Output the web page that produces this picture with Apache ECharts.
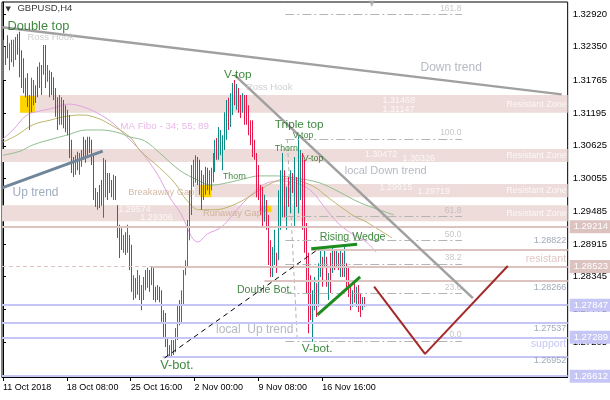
<!DOCTYPE html>
<html><head><meta charset="utf-8">
<script src="https://cdn.jsdelivr.net/npm/echarts@6/dist/echarts.min.js"></script>
<style>html,body{margin:0;padding:0;background:#fff}#c{width:610px;height:400px}</style>
</head><body><div id="c"></div>
<script>
// ---------- data ----------
const timeLabels = ['11 Oct 2018','18 Oct 08:00','25 Oct 16:00','2 Nov 00:00','9 Nov 08:00','16 Nov 16:00'];
const timeTickBars = [0,32,64,96,128,160];
const priceTicks = [1.32920,1.32350,1.31765,1.31195,1.30625,1.30055,1.29485,1.28915,1.28345,1.27775,1.27205];

// H4 bars: high, low and direction (U = up bar, D = down bar)
const highs = [
1.3247,1.3235,1.3255,1.3241,1.3247,1.3247,1.3252,1.3257,1.3261,1.3229,
1.3215,1.3181,1.3189,1.3151,1.3181,1.3177,1.3168,1.3200,1.3208,1.3203,
1.3238,1.3238,1.3203,1.3194,1.3191,1.3182,1.3163,1.3147,1.3151,1.3147,
1.3142,1.3133,1.3125,1.3116,1.3073,1.3043,1.3046,1.3052,1.3050,1.3055,
1.3078,1.3073,1.3078,1.3078,1.3073,1.3050,1.2989,1.2982,1.2994,1.3003,
1.3041,1.3038,1.3015,1.3015,1.3003,1.3012,1.3010,1.2959,1.2925,1.2919,
1.2907,1.2912,1.2925,1.2907,1.2890,1.2837,1.2832,1.2846,1.2837,1.2820,
1.2834,1.2846,1.2850,1.2846,1.2853,1.2850,1.2817,1.2820,1.2817,1.2811,
1.2776,1.2771,1.2729,1.2715,1.2724,1.2724,1.2745,1.2785,1.2794,1.2811,
1.2846,1.2863,1.2933,1.2985,1.3029,1.3038,1.3046,1.3043,1.3038,1.3020,
1.3012,1.3026,1.3024,1.3020,1.3024,1.3050,1.3073,1.3076,1.3095,1.3090,
1.3081,1.3121,1.3142,1.3146,1.3154,1.3172,1.3177,1.3170,1.3163,1.3151,
1.3154,1.3151,1.3151,1.3133,1.3107,1.3107,1.3073,1.3050,1.3029,1.2994,
1.2991,1.2977,1.2968,1.2942,1.2898,1.2886,1.2916,1.2876,1.2985,1.3020,
1.3050,1.3020,1.2991,1.3008,1.3020,1.3015,1.3043,1.3008,1.3081,1.3055,
1.3050,1.3038,1.2928,1.2876,1.2837,1.2811,1.2834,1.2823,1.2858,1.2886,
1.2869,1.2881,1.2869,1.2841,1.2876,1.2886,1.2881,1.2881,1.2876,1.2881,
1.2876,1.2886,1.2858,1.2851,1.2817,1.2811,1.2823,1.2817,1.2820,1.2806,
1.2799,1.2799];
const lows = [
1.3177,1.3203,1.3215,1.3194,1.3208,1.3200,1.3212,1.3221,1.3182,1.3163,
1.3154,1.3147,1.3130,1.3090,1.3121,1.3133,1.3137,1.3147,1.3163,1.3151,
1.3186,1.3163,1.3174,1.3147,1.3151,1.3142,1.3113,1.3090,1.3099,1.3099,
1.3093,1.3086,1.3081,1.3041,1.3015,1.3008,1.3012,1.3020,1.3012,1.3026,
1.3038,1.3033,1.3043,1.3050,1.3029,1.2968,1.2956,1.2951,1.2954,1.2958,
1.2937,1.2973,1.2968,1.2980,1.2973,1.2968,1.2968,1.2902,1.2867,1.2881,
1.2876,1.2872,1.2876,1.2846,1.2808,1.2794,1.2797,1.2803,1.2794,1.2776,
1.2794,1.2811,1.2815,1.2808,1.2820,1.2794,1.2790,1.2794,1.2790,1.2756,
1.2729,1.2712,1.2694,1.2694,1.2694,1.2698,1.2703,1.2724,1.2750,1.2754,
1.2785,1.2837,1.2851,1.2898,1.2942,1.2991,1.2998,1.2994,1.2977,1.2951,
1.2968,1.2977,1.2985,1.2977,1.2985,1.2999,1.3017,1.3038,1.3038,1.3046,
1.3020,1.3055,1.3073,1.3090,1.3095,1.3116,1.3133,1.3125,1.3120,1.3111,
1.3120,1.3099,1.3099,1.3081,1.3064,1.3043,1.3038,1.2973,1.2968,1.2942,
1.2921,1.2930,1.2916,1.2855,1.2834,1.2834,1.2855,1.2841,1.2863,1.2916,
1.2938,1.2938,1.2916,1.2956,1.2945,1.2980,1.2921,1.2956,1.2945,1.2968,
1.2916,1.2876,1.2806,1.2736,1.2759,1.2721,1.2776,1.2764,1.2782,1.2834,
1.2817,1.2851,1.2817,1.2794,1.2806,1.2841,1.2846,1.2851,1.2846,1.2834,
1.2834,1.2834,1.2811,1.2799,1.2776,1.2782,1.2789,1.2782,1.2773,1.2764,
1.2776,1.2782];
const dirs = 'UDDUDUUDDD' + 'DDDUUUDDUD' + 'UDUDDDDDUU' + 'DDUDDDUDUU' + 'DDDDDDDUDD' +
             'UUDUDUDDDD' + 'UDUDDUDUUD' + 'UDUDUDDUDD' + 'DDDDUUUUDU' + 'UUUUUUUDDD' +
             'UDDUUUUDUU' + 'UUUDUUDUDD' + 'UDDDDDDDDD' + 'DUDDDUUDUU' + 'UDUDUDUDUU' +
             'DDDDDUUDUU' + 'DUDUDUDUDU' + 'DUDDDUDUDD' + 'UD';

// moving averages: [bar, price]
const maViolet = [[-0.5,1.3073],[5,1.3090],[12,1.3116],[18.5,1.3123],[25,1.3128],[32.5,1.3135],[38.5,1.3132],[47,1.3120],[55,1.3102],[63.5,1.3073],[68.5,1.3055],[77,1.3015],[83.5,1.2973],[89.5,1.2942],[94.5,1.2904],[97.5,1.2895],[102.5,1.2909],[109.5,1.2921],[118.5,1.2956],[127,1.2985],[133.5,1.2999],[140,1.3001],[148.5,1.2996],[155,1.2982],[161,1.2956],[168.5,1.2926],[176,1.2907],[182,1.2895],[187,1.2877]];
const maOlive = [[0,1.3069],[7,1.3081],[15,1.3099],[23.5,1.3107],[32,1.3114],[40,1.3116],[47,1.3111],[53.5,1.3100],[63.5,1.3078],[68.5,1.3055],[78.5,1.3024],[86,1.2998],[92,1.2968],[98.5,1.2951],[106,1.2951],[114.5,1.2958],[122.5,1.2972],[128.5,1.2985],[135,1.2998],[142,1.3005],[148.5,1.3001],[156,1.2991],[162,1.2975],[168.5,1.2958],[176,1.2940],[182,1.2930],[188.5,1.2916],[195,1.2902]];
const maGreen = [[0,1.3046],[8.5,1.3053],[15,1.3064],[23.5,1.3073],[32,1.3081],[42,1.3090],[48.5,1.3090],[57,1.3086],[63.5,1.3078],[71,1.3071],[78.5,1.3050],[88.5,1.3020],[97.5,1.3003],[104.5,1.2994],[112.5,1.2998],[121,1.3005],[128.5,1.3010],[137,1.3010],[147,1.3006],[158.5,1.2998],[168.5,1.2982],[178.5,1.2964],[188.5,1.2951],[196,1.2942]];

// resistance zones
const zoneTop = [1.3151, 1.3057, 1.2996, 1.2959];
const zoneBottom = [1.3120, 1.3034, 1.2973, 1.2931];
const zoneFromBar = [8.5, -0.5, 96, -0.5];
// gap markers [fromBar, toBar, top, bottom]
const gapBoxes = [[8.5,16,1.3149,1.3120],[99,104.5,1.2994,1.2973],[128.5,134.5,1.2958,1.2947]];

// horizontal levels
const resLevels = [1.29214, 1.28822, 1.28523, 1.28266];
const resFromBar = [-0.5, 154.5, 74.5, 131];
const resBoxed = [true, false, true, false];
const supLevels = [1.27847, 1.27537, 1.27289, 1.26952, 1.26612];
const supFromBar = [-0.5, -0.5, -0.5, 80, -0.5];
const supBoxed = [true, false, true, false, true];

// fibonacci
const fibAnchors = [[142.5,1.3074],[147.5,1.2722]];
const fibNames = ['0.0','23.6','38.2','50.0','61.8','100.0','161.8'];
const fibPrices = [1.2722,1.2805,1.2856,1.2898,1.2940,1.3074,1.3292];
const fibSpan = [141.5, 230];

// trend lines [bar, price]
const downTrend = [[-0.5,1.3269],[280,1.3152]];
const localDownTrend = [[116,1.3186],[235.5,1.2797]];
const upTrend = [[-0.5,1.2989],[50,1.3053]];
const localUpTrend = [[81,1.2693],[159.5,1.2886]];
const wedgeUpper = [[154.5,1.2883],[177.5,1.2891]];
const wedgeLower = [[157.5,1.2768],[179,1.2834]];
const projection = [[186,1.2817],[211.5,1.2700],[253,1.2853]];

// text notes: [text, bar, price, style]
const notes = [
 ['▼',1,1.3301,'mark'],['GBPUSD,H4',7,1.3301,'hdr'],
 ['Double top',2,1.3271,'gL'],['Ross Hook',12,1.3252,'hook'],
 ['MA Fibo - 34; 55; 89',58.5,1.3097,'ma'],['Up trend',4.5,1.2980,'upT'],
 ['Breakaway Gap',62.5,1.2982,'gap'],['Runaway Gap',100,1.2944,'gap'],
 ['V-top',110.5,1.3186,'gM'],['Ross Hook',121.5,1.3165,'hook'],
 ['Thorn',110,1.3008,'gXS'],['Thorn',136,1.3057,'gXS'],
 ['Triple top',136,1.3099,'gM'],['V-top',145,1.3081,'gXS'],['V-top',150,1.3041,'gXS'],
 ['local Down trend',171,1.3019,'grayS'],['Down trend',209,1.3198,'grayT'],
 ['Rising Wedge',158.5,1.2904,'gS'],['Double Bot.',117,1.2811,'gS'],
 ['local  Up trend',106.5,1.2742,'grayT'],['V-bot.',78.5,1.2679,'gL'],['V-bot.',149.5,1.2709,'gM'],
 ['1.31468',190,1.3142,'zone'],['1.31147',190,1.3125,'zone'],
 ['1.30472',181,1.3048,'zone'],['1.30326',200,1.3041,'zone'],
 ['1.29915',188.5,1.2989,'zone'],['1.29719',207.5,1.2982,'zone'],
 ['1.29574',57.5,1.2952,'zone'],['1.29306',68.5,1.2937,'zone'],
 ['Resistant Zone',252,1.3135,'zone'],['Resistant Zone',252,1.3046,'zone'],
 ['Resistant Zone',252,1.2984,'zone'],['Resistant Zone',252,1.2945,'zone'],
 ['▼',183,1.3309,'shift'],
 ['resistant',282.5,1.2865,'resT'],['support',282.5,1.2717,'supT'],
 ['1.28822',282.5,1.2898,'lvl'],['1.28266',282.5,1.2815,'lvl'],
 ['1.27537',282.5,1.2745,'lvl'],['1.26952',282.5,1.2688,'lvl'],
 ['161.8',230,1.3301,'fib'],['100.0',230,1.3085,'fib'],['61.8',230,1.2949,'fib'],
 ['50.0',230,1.2907,'fib'],['38.2',230,1.2867,'fib'],['23.6',230,1.2815,'fib'],['0.0',230,1.2733,'fib']
];

// ---------- styles ----------
const FONT = 'Liberation Sans, Arial, sans-serif';
const UP = '#0b8c84', DOWN = '#e61a4a';
const SALMON = '#dcc3bf', SALMON_FILL = '#eddcd9', LAV = '#c6c6f6';
const noteStyles = {
  hdr:{color:'#000000',size:9.5}, mark:{color:'#000000',size:7,font:'DejaVu Sans'},
  shift:{color:'#a8a8a8',size:8,font:'DejaVu Sans'},
  gL:{color:'#0f6a10',size:12.8}, gM:{color:'#0f6a10',size:11.8}, gS:{color:'#0f6a10',size:10.6}, gXS:{color:'#0f6a10',size:8.8},
  hook:{color:'#c4c4c4',size:9.5}, ma:{color:'#e4a6e4',size:9.8}, upT:{color:'#8796ae',size:12},
  grayT:{color:'#a2a8b2',size:12}, grayS:{color:'#a2a8b2',size:11}, gap:{color:'#caa88e',size:9.3},
  zone:{color:'#ffffff',size:9},
  resT:{color:'#dab8b4',size:10.7,right:true}, supT:{color:'#b6b6f2',size:10.6,right:true},
  lvl:{color:'#8793a8',size:9,right:true}, fib:{color:'#b8b8b8',size:8.5,right:true}
};

// ---------- build ----------
const X_MIN = -0.5, X_MAX = 283;
const barData = highs.map((h, i) => [i, h, lows[i], dirs[i] === 'U' ? 1 : 0]);

const zoneAreas = zoneTop.map((t, k) => [
  {coord:[zoneFromBar[k], t], itemStyle:{color:SALMON_FILL}}, {coord:[X_MAX, zoneBottom[k]]}]);
const gapAreas = gapBoxes.map(g => [
  {coord:[g[0], g[2]], itemStyle:{color:'#ffd400'}}, {coord:[g[1], g[3]]}]);

function levelLine(price, from, color, width, boxed, type) {
  const first = {coord:[from, price], lineStyle:{color:color, width:width, type:type || 'solid'}};
  if (boxed) {
    first.label = {show:true, position:'end', formatter:price.toFixed(5), color:'#ffffff',
      backgroundColor:color, padding:[2,4,1,4], fontSize:9.5, fontFamily:FONT, distance:2};
  } else {
    first.label = {show:false};
  }
  return [first, {coord:[X_MAX, price]}];
}
const levelLines = [];
resLevels.forEach((p, k) => {
  if (k === 2) {
    levelLines.push([{coord:[X_MIN, p], lineStyle:{color:SALMON, width:1, type:[4,3]}, label:{show:false}}, {coord:[resFromBar[k], p]}]);
  }
  levelLines.push(levelLine(p, resFromBar[k], SALMON, 2, resBoxed[k]));
});
supLevels.forEach((p, k) => levelLines.push(levelLine(p, supFromBar[k], LAV, 2, supBoxed[k])));
const fibLines = fibPrices.map(p => [
  {coord:[fibSpan[0], p], lineStyle:{color:'#b4b4b4', width:1, type:[9,3,2,3]}, label:{show:false}},
  {coord:[fibSpan[1], p]}]);

function trend(name, pts, color, width, type, z) {
  return {name:name, type:'line', data:pts, symbol:'none', silent:true, z:z || 6,
    lineStyle:{color:color, width:width, type:type || 'solid'}, animation:false};
}
function ma(pts, color) {
  return {type:'line', data:pts, symbol:'none', smooth:0.4, silent:true, z:3,
    lineStyle:{color:color, width:1}, animation:false};
}

const noteData = notes.map(n => {
  const st = noteStyles[n[3]];
  return {value:[n[1], n[2]], label:{show:true, formatter:n[0], position: st.right ? 'left' : 'right',
    distance:0, color:st.color, fontSize:st.size, fontFamily: st.font || FONT}};
});

const chart = echarts.init(document.getElementById('c'), null, {renderer:'canvas'});
chart.setOption({
  animation:false,
  backgroundColor:'#ffffff',
  grid:{left:2, top:2, width:567, height:375, show:true, borderColor:'#000', borderWidth:1, backgroundColor:'#fff'},
  xAxis:{type:'value', min:X_MIN, max:X_MAX, splitLine:{show:false},
    axisLine:{show:true, lineStyle:{color:'#000'}},
    axisTick:{show:true, customValues:timeTickBars, length:4, lineStyle:{color:'#000'}},
    axisLabel:{customValues:timeTickBars, formatter:v => timeLabels[timeTickBars.indexOf(Math.round(v))] || '',
      align:'left', color:'#000', fontSize:9, fontFamily:FONT, margin:6}},
  yAxis:{type:'value', position:'right', min:1.26597, max:1.33129, splitLine:{show:false},
    axisLine:{show:true, lineStyle:{color:'#000'}},
    axisTick:{show:true, customValues:priceTicks, length:3, lineStyle:{color:'#000'}},
    axisLabel:{customValues:priceTicks, formatter:v => v.toFixed(5), color:'#000', fontSize:9.5, fontFamily:FONT, margin:5}},
  series:[
    {type:'line', data:[], z:1, silent:true, markArea:{silent:true, data:zoneAreas}},
    {type:'line', data:[], z:2, silent:true, markArea:{silent:true, data:gapAreas}},
    {type:'line', data:[], z:2, silent:true, markLine:{silent:true, symbol:['none','none'], data:levelLines}},
    {type:'line', data:[], z:2, silent:true, markLine:{silent:true, symbol:['none','none'], data:fibLines}},
    trend('fibDiag', fibAnchors, '#b4b4b4', 1, [4,3], 2),
    ma(maViolet, '#e2a2e2'), ma(maOlive, '#bdb56b'), ma(maGreen, '#8fbf8f'),
    {type:'custom', data:barData, z:4, silent:true, encode:{x:0, y:[1,2]},
      renderItem:function(params, api) {
        const i = api.value(0);
        const hi = api.coord([i, api.value(1)]);
        const lo = api.coord([i, api.value(2)]);
        return {type:'rect', shape:{x:Math.round(hi[0]), y:hi[1], width:1, height:Math.max(1, lo[1]-hi[1])},
          style:{fill: api.value(3) ? UP : DOWN}};
      }},
    trend('Down trend', downTrend, '#a0a0a0', 2.5),
    trend('local Down trend', localDownTrend, '#a0a0a0', 2.5),
    trend('Up trend', upTrend, '#6f869b', 3),
    trend('local Up trend', localUpTrend, '#000000', 1, [5,4]),
    trend('Wedge upper', wedgeUpper, '#1d8c1d', 3),
    trend('Wedge lower', wedgeLower, '#1d8c1d', 3),
    trend('Projection', projection, '#a52a2a', 2),
    {type:'scatter', data:noteData, symbol:'circle', symbolSize:1, z:8, silent:true,
      itemStyle:{color:'rgba(255,255,255,0)'}, labelLayout:{hideOverlap:false}}
  ]
});
</script>
</body></html>
